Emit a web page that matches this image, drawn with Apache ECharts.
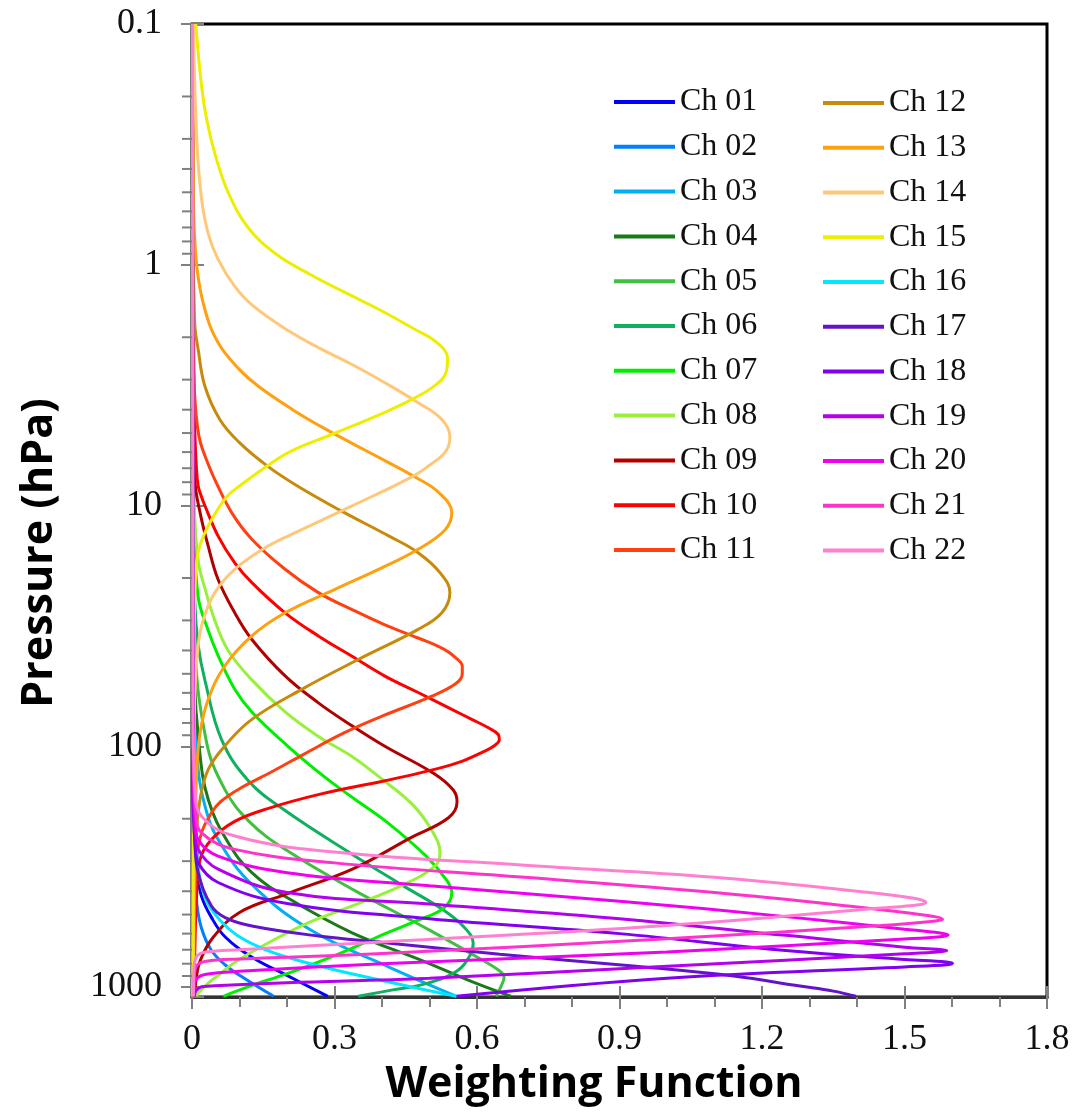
<!DOCTYPE html>
<html>
<head>
<meta charset="utf-8">
<script src="https://cdn.jsdelivr.net/npm/echarts@6/dist/echarts.min.js"></script>
<style>
html,body{margin:0;padding:0;background:#fff;}
#chart{width:1074px;height:1114px;}
</style>
</head>
<body>
<div id="chart"></div>
<script>
// ---- Data: each channel is a list of [weighting function, pressure hPa] ----
const names = ['Ch 01','Ch 02','Ch 03','Ch 04','Ch 05','Ch 06','Ch 07','Ch 08','Ch 09','Ch 10','Ch 11',
               'Ch 12','Ch 13','Ch 14','Ch 15','Ch 16','Ch 17','Ch 18','Ch 19','Ch 20','Ch 21','Ch 22'];
const colors = ['#0000FF','#0080FF','#00B0F0','#1A7A1A','#40C040','#10B060','#00EE00','#99F03C','#B00000','#FF0000','#FF4010',
                '#C88A0A','#FFA010','#FFC878','#EEEE00','#00E8FF','#6414C8','#8000F0','#B400F0','#F000F0','#FF33CC','#FF80D0'];

const ch01 = [[0.001,0.1],[0.002,10],[0.003,60],[0.005,150],[0.008,250],[0.012,340],[0.02,420],[0.04,510],[0.07,620],[0.13,760],[0.2,895],[0.286,1093]];
const ch02 = [[0.001,0.1],[0.002,30],[0.004,200],[0.007,350],[0.01,450],[0.02,570],[0.04,700],[0.07,810],[0.11,920],[0.172,1093]];
const ch03 = [[0.001,0.1],[0.002,5],[0.005,60],[0.012,120],[0.027,176],[0.055,244],[0.126,375],[0.25,580],[0.417,830],[0.557,1093]];
const ch04 = [[0.001,0.1],[0.002,10],[0.005,50],[0.015,100],[0.034,166],[0.076,251],[0.126,335],[0.2,425],[0.336,594],[0.487,780],[0.592,955],[0.672,1093]];
const ch05 = [[0.001,0.1],[0.002,5],[0.006,35],[0.03,95],[0.069,151],[0.12,205],[0.196,268],[0.34,395],[0.5,580],[0.6,750],[0.645,850],[0.657,910],[0.652,980],[0.64,1093]];
const ch06 = [[0.001,0.1],[0.002,5],[0.006,25],[0.013,38],[0.027,53],[0.0625,94],[0.12,140],[0.196,185],[0.336,280],[0.445,380],[0.53,480],[0.575,570],[0.592,660],[0.585,740],[0.557,860],[0.487,975],[0.42,1030],[0.35,1093]];
const ch07 = [[0.001,0.1],[0.002,3],[0.005,12],[0.013,24],[0.034,33],[0.055,42],[0.09,58],[0.126,72],[0.202,100],[0.281,135],[0.343,166],[0.411,207],[0.493,286],[0.536,360],[0.547,405],[0.53,470],[0.473,530],[0.39,620],[0.3,740],[0.2,880],[0.126,985],[0.066,1093]];
const ch08 = [[0.001,0.1],[0.002,3],[0.005,10],[0.013,17],[0.027,22],[0.048,30],[0.076,40],[0.126,53],[0.196,72],[0.266,91],[0.336,110],[0.40,137],[0.466,176],[0.508,229],[0.522,277],[0.512,314],[0.44,380],[0.336,461],[0.241,545],[0.161,655],[0.09,790],[0.06,880],[0.035,960],[0.013,1060],[0.01,1093]];
const ch09 = [[0.001,0.1],[0.002,2],[0.006,7.8],[0.017,10.7],[0.034,14.7],[0.055,20.3],[0.09,27.9],[0.126,36],[0.196,51],[0.266,66],[0.336,82],[0.406,100],[0.51,130],[0.55,152],[0.558,170],[0.54,198],[0.46,240],[0.34,322],[0.2,410],[0.1,490],[0.045,620],[0.017,780],[0.008,950],[0.005,1093]];
const ch10 = [[0.001,0.1],[0.002,1],[0.003,2.5],[0.006,5],[0.009,6.8],[0.013,8.3],[0.02,9.2],[0.027,10],[0.055,13.4],[0.09,17.3],[0.126,20.9],[0.196,27.9],[0.266,34.8],[0.336,42.2],[0.406,51.1],[0.476,59.8],[0.547,70.3],[0.59,77.5],[0.625,84],[0.645,89.5],[0.647,94],[0.638,99],[0.615,105],[0.56,117],[0.48,129],[0.406,139],[0.27,158],[0.161,181],[0.09,205],[0.041,244],[0.017,295],[0.01,405],[0.006,700],[0.005,1093]];
const ch11 = [[0.001,0.1],[0.002,0.5],[0.003,1.5],[0.004,2.5],[0.006,3.6],[0.012,4.8],[0.018,5.5],[0.027,6.2],[0.048,7.8],[0.0835,10.7],[0.126,13.8],[0.196,18.4],[0.266,23],[0.336,27],[0.406,31.3],[0.476,35.5],[0.53,39.5],[0.556,43],[0.569,46.5],[0.569,50],[0.555,55],[0.5,62.5],[0.40,75],[0.32,88],[0.235,108],[0.17,127],[0.1,150],[0.06,170],[0.041,189],[0.02,229],[0.01,295],[0.005,500],[0.004,1093]];
const ch12 = [[0.001,0.1],[0.002,0.5],[0.003,1.0],[0.0045,1.45],[0.006,1.8],[0.013,2.25],[0.027,3.19],[0.0585,4.39],[0.1,5.48],[0.159,6.86],[0.222,8.3],[0.309,10.4],[0.415,13.4],[0.476,15.7],[0.522,19],[0.543,23],[0.526,27.9],[0.476,32.7],[0.35,43.6],[0.231,58],[0.126,77.3],[0.069,99.7],[0.034,125],[0.017,166],[0.008,250],[0.004,500],[0.003,1093]];
const ch13 = [[0.001,0.1],[0.003,0.535],[0.01,1.01],[0.027,1.53],[0.055,2.11],[0.0996,2.72],[0.139,3.19],[0.211,3.99],[0.27,4.68],[0.341,5.57],[0.408,6.54],[0.474,7.7],[0.52,8.85],[0.547,10.7],[0.533,12.6],[0.476,15.2],[0.406,17.9],[0.301,22.3],[0.196,27.9],[0.126,34.8],[0.069,46.4],[0.034,63.9],[0.017,87.9],[0.01,129],[0.005,300],[0.003,1093]];
const ch14 = [[0.003,0.1],[0.01,0.3],[0.02,0.53],[0.034,0.74],[0.055,0.95],[0.09,1.23],[0.13,1.49],[0.205,1.89],[0.266,2.21],[0.336,2.59],[0.406,3.09],[0.476,3.74],[0.526,4.39],[0.543,5.2],[0.533,6.0],[0.5,6.8],[0.463,7.6],[0.336,10.06],[0.231,12.6],[0.161,14.7],[0.09,18.4],[0.048,23],[0.024,29.7],[0.013,38],[0.006,60],[0.003,200],[0.002,1093]];
const ch15 = [[0.008,0.1],[0.02,0.18],[0.031,0.25],[0.049,0.35],[0.076,0.5],[0.118,0.7],[0.176,0.9],[0.25,1.1],[0.321,1.3],[0.393,1.53],[0.466,1.84],[0.515,2.1],[0.538,2.45],[0.535,2.8],[0.509,3.2],[0.46,3.65],[0.4,4.15],[0.294,5.07],[0.212,5.9],[0.165,6.7],[0.1,8.3],[0.069,9.4],[0.027,13],[0.01,17],[0.005,30],[0.003,100],[0.002,1093]];
const ch16 = [[0.001,0.1],[0.002,20],[0.004,120],[0.008,220],[0.02,380],[0.06,530],[0.136,675],[0.25,800],[0.417,955],[0.557,1093]];
const ch17 = [[0.001,0.1],[0.002,150],[0.006,250],[0.013,335],[0.041,461],[0.07,515],[0.126,558],[0.266,614],[0.406,654],[0.648,731],[0.929,818],[1.14,900],[1.28,991],[1.35,1040],[1.398,1093]];
const ch18 = [[0.001,0.1],[0.002,120],[0.004,200],[0.007,260],[0.013,304],[0.055,368],[0.2,450],[0.5,520],[0.9,600],[1.25,705],[1.5,768],[1.588,787],[1.601,797],[1.59,808],[1.5,825],[1.0,920],[0.557,1093]];
const ch19 = [[0.001,0.1],[0.002,110],[0.004,180],[0.007,230],[0.013,268],[0.055,324],[0.2,405],[0.5,452],[0.9,520],[1.25,610],[1.5,683],[1.575,698],[1.589,705],[1.575,713],[1.5,728],[1.0,820],[0.5,920],[0.2,960],[0.06,985],[0.02,998],[0.008,1040],[0.005,1093]];
const ch20 = [[0.001,0.1],[0.002,100],[0.004,160],[0.007,210],[0.013,244],[0.055,286],[0.2,335],[0.5,380],[0.9,440],[1.25,510],[1.5,575],[1.575,597],[1.592,608],[1.575,618],[1.5,632],[1.0,715],[0.4,800],[0.1,860],[0.03,885],[0.01,920],[0.005,990],[0.004,1093]];
const ch21 = [[0.001,0.1],[0.002,90],[0.004,140],[0.008,190],[0.02,229],[0.09,268],[0.3,305],[0.7,350],[1.1,405],[1.4,465],[1.54,502],[1.58,523],[1.55,535],[1.45,555],[1.0,630],[0.4,725],[0.1,765],[0.03,782],[0.01,815],[0.005,900],[0.003,1093]];
const ch22 = [[0.001,0.1],[0.002,80],[0.004,120],[0.006,150],[0.02,195],[0.09,236],[0.3,275],[0.7,312],[1.1,350],[1.4,400],[1.52,428],[1.545,446],[1.53,455],[1.45,470],[1.0,555],[0.4,650],[0.1,700],[0.03,715],[0.01,745],[0.004,850],[0.003,1093]];

const xTicks = [0, 0.3, 0.6, 0.9, 1.2, 1.5, 1.8];
const yMajorTicks = [0.1, 1, 10, 100, 1000];
const yMinorTicks = [0.2,0.3,0.4,0.5,0.6,0.7,0.8,0.9, 2,3,4,5,6,7,8,9, 20,30,40,50,60,70,80,90, 200,300,400,500,600,700,800,900];

const chData = [ch01,ch02,ch03,ch04,ch05,ch06,ch07,ch08,ch09,ch10,ch11,ch12,ch13,ch14,ch15,ch16,ch17,ch18,ch19,ch20,ch21,ch22];

// ---- Chart ----
const serif = '"Liberation Serif", "Times New Roman", serif';
const tickGray = '#808080';
const chart = echarts.init(document.getElementById('chart'), null, {renderer: 'canvas'});

const lineSeries = names.map((n, i) => ({
  name: n, type: 'line', data: chData[i], smooth: 0.4, showSymbol: false, symbol: 'none',
  xAxisIndex: 0, yAxisIndex: 0,
  lineStyle: {width: 3, color: colors[i]}, itemStyle: {color: colors[i]},
  emphasis: {disabled: true}, z: 3
}));

const minorTickSeries = {
  type: 'custom', xAxisIndex: 0, yAxisIndex: 0, silent: true, clip: false, z: 5,
  data: yMinorTicks.map(v => [0, v]),
  renderItem: function (params, api) {
    const pt = api.coord([0, api.value(1)]);
    return {type: 'line', shape: {x1: pt[0] - 10, y1: pt[1], x2: pt[0], y2: pt[1]},
            style: {stroke: tickGray, lineWidth: 2}};
  }
};

const legendCommon = {
  orient: 'vertical', icon: 'rect', itemWidth: 61, itemHeight: 4, padding: 0,
  selectedMode: false,
  textStyle: {fontFamily: serif, fontSize: 32, lineHeight: 32, color: '#111'}
};

const yLabelFmt = v => String(Math.round(v * 1000) / 1000);

chart.setOption({
  animation: false,
  backgroundColor: '#fff',
  grid: {left: 192, right: 27, top: 24, bottom: 117, show: true, borderColor: '#000', borderWidth: 3, backgroundColor: 'transparent'},
  legend: [
    Object.assign({}, legendCommon, {left: 614, top: 86, itemGap: 12.8, data: names.slice(0, 11)}),
    Object.assign({}, legendCommon, {left: 823, top: 87, itemGap: 12.75, data: names.slice(11)})
  ],
  xAxis: [
    {type: 'value', min: xTicks[0], max: xTicks[xTicks.length - 1], interval: 0.3, position: 'bottom',
     axisLine: {show: true, onZero: false, lineStyle: {color: '#333', width: 3}},
     axisTick: {show: true, inside: false, length: 12, lineStyle: {color: tickGray, width: 2}},
     minorTick: {show: true, splitNumber: 3, length: 10, lineStyle: {color: tickGray, width: 2}},
     axisLabel: {margin: 25, fontFamily: serif, fontSize: 36, color: '#111'},
     splitLine: {show: false}, minorSplitLine: {show: false}},
    {type: 'value', min: xTicks[0], max: xTicks[xTicks.length - 1], interval: 0.3, position: 'bottom',
     axisLine: {show: false, onZero: false},
     axisTick: {show: true, inside: true, length: 11, lineStyle: {color: tickGray, width: 2}},
     axisLabel: {show: false}, splitLine: {show: false}}
  ],
  yAxis: [
    {type: 'log', logBase: 10, min: yMajorTicks[0], max: 1100, inverse: true, position: 'left',
     axisLine: {show: true, onZero: false, lineStyle: {color: '#555', width: 2}},
     axisTick: {show: true, inside: false, length: 11, lineStyle: {color: tickGray, width: 2}},
     axisLabel: {margin: 30, fontFamily: serif, fontSize: 36, color: '#111', formatter: yLabelFmt, showMaxLabel: false, showMinLabel: true},
     splitLine: {show: false}},
    {type: 'log', logBase: 10, min: yMajorTicks[0], max: 1100, inverse: true, position: 'left',
     axisLine: {show: false, onZero: false},
     axisTick: {show: true, inside: true, length: 12, lineStyle: {color: tickGray, width: 2}},
     axisLabel: {show: false}, splitLine: {show: false}}
  ],
  graphic: [
    {type: 'text', x: 40, y: 553, rotation: Math.PI / 2, z: 10,
     style: {text: 'Pressure (hPa)', font: 'bold 43px "Open Sans", sans-serif', fill: '#000', align: 'center', verticalAlign: 'middle', textAlign: 'center', textVerticalAlign: 'middle'}},
    {type: 'text', x: 594, y: 1085, z: 10,
     style: {text: 'Weighting Function', font: 'bold 43px "Open Sans", sans-serif', fill: '#000', align: 'center', verticalAlign: 'middle', textAlign: 'center', textVerticalAlign: 'middle'}}
  ],
  series: lineSeries.concat([minorTickSeries])
});
</script>
</body>
</html>
